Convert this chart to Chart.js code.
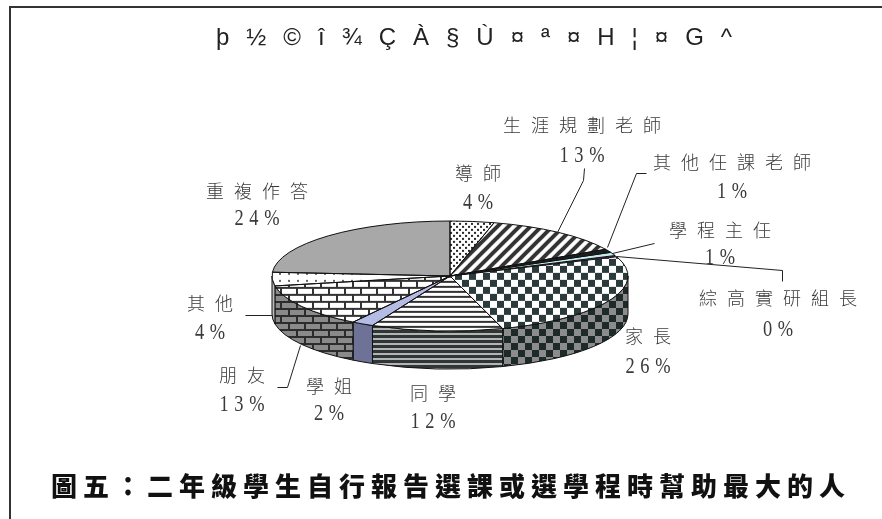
<!DOCTYPE html>
<html>
<head>
<meta charset="utf-8">
<script src="https://cdn.jsdelivr.net/npm/chart.js@4.4.1/dist/chart.umd.min.js"></script>
<style>
  html, body { margin: 0; background: #fff; }
  #wrap { width: 882px; height: 519px; }
</style>
</head>
<body>
<div id="wrap"><canvas id="c" width="882" height="519"></canvas></div>
<script>
// data, clockwise from 12 o'clock
const categories = ['導師', '生涯規劃老師', '其他任課老師', '學程主任', '綜高實研組長', '家長', '同學', '學姐', '朋友', '其他', '重複作答'];
const shares = [4, 13, 1, 1, 0.4, 26, 12, 2, 13, 4, 24];
const chartTitle = '圖五：二年級學生自行報告選課或選學程時幫助最大的人';
const garbledTitle = 'þ½©î¾ÇÀ§Ù¤ª¤H¦¤G^';

// label placement: [x, name y, percent y]
const labelSpots = {
  '導師': [478, 173, 203],
  '生涯規劃老師': [582, 125, 156],
  '其他任課老師': [732, 162, 192],
  '學程主任': [720, 230, 258],
  '綜高實研組長': [778, 298, 330],
  '家長': [648, 336, 367],
  '同學': [433, 393, 422],
  '學姐': [329, 386, 414],
  '朋友': [242, 375, 405],
  '其他': [210, 303, 333],
  '重複作答': [257, 191, 219]
};
const leaders = [
  [[584, 168], [583, 180], [557, 232]],
  [[646, 173], [636, 173], [607, 247]],
  [[654, 243], [612, 253]],
  [[616, 256], [782, 270], [782, 281]],
  [[245, 315], [272, 315]],
  [[277, 387], [287, 387], [300, 345]]
];

const TILT = 55 / 178, DEPTH = 38, TOP_Y = 276;
const ctx = document.getElementById('c').getContext('2d');

function tile(w, h, paint) {
  const cv = document.createElement('canvas');
  cv.width = w; cv.height = h;
  paint(cv.getContext('2d'), w, h);
  return ctx.createPattern(cv, 'repeat');
}
function flat(p) {
  // top face is drawn squashed, so stretch the pattern back
  p.setTransform(new DOMMatrix([1, 0, 0, 1 / TILT, 0, 0]));
  return p;
}
const dots = (bg, fg, w, h, pts, s) => tile(w, h, g => {
  g.fillStyle = bg; g.fillRect(0, 0, w, h);
  g.fillStyle = fg; pts.forEach(([x, y]) => g.fillRect(x, y, s, s));
});
const checker = (a, b, n) => tile(2 * n, 2 * n, g => {
  g.fillStyle = b; g.fillRect(0, 0, 2 * n, 2 * n);
  g.fillStyle = a; g.fillRect(0, 0, n, n); g.fillRect(n, n, n, n);
});
const hstripes = (a, b, da, db) => tile(2, da + db, g => {
  g.fillStyle = b; g.fillRect(0, 0, 2, da + db);
  g.fillStyle = a; g.fillRect(0, 0, 2, da);
});
const bricks = (bg, line, bw, bh) => tile(bw, bh * 2, g => {
  g.fillStyle = bg; g.fillRect(0, 0, bw, bh * 2);
  g.fillStyle = line;
  g.fillRect(0, 0, bw, 2); g.fillRect(0, bh, bw, 2);
  g.fillRect(0, 0, 2, bh); g.fillRect(bw / 2, bh, 2, bh);
});
const diag = (a, b, n, lw) => tile(n, n, g => {
  g.fillStyle = b; g.fillRect(0, 0, n, n);
  g.strokeStyle = a; g.lineWidth = lw;
  g.beginPath();
  g.moveTo(-n / 2, n / 2); g.lineTo(n / 2, -n / 2);
  g.moveTo(0, n); g.lineTo(n, 0);
  g.moveTo(n / 2, n * 1.5); g.lineTo(n * 1.5, n / 2);
  g.stroke();
});

const topFills = [
  flat(dots('#fff', '#2a2a2a', 6, 6, [[0, 0], [3, 3]], 2)),
  flat(diag('#333', '#fff', 11, 4)),
  '#1e1e1e',
  '#c4eeee',
  '#5a1a7a',
  flat(checker('#2b3a3a', '#fff', 7)),
  flat(hstripes('#333', '#fff', 2, 3)),
  '#b4bce6',
  flat(bricks('#fff', '#333', 16, 7)),
  flat(dots('#fff', '#666', 9, 7, [[0, 0]], 2)),
  '#a8a8a8'
];
const sideFills = [
  '#555', '#333', '#111', '#8aa', '#402060',
  checker('#1e2a2a', '#8c8c8c', 7),
  hstripes('#2e3636', '#b4b4b4', 3, 2),
  '#6e7296',
  bricks('#8a8a8a', '#2c2c2c', 16, 7),
  dots('#bbb', '#555', 9, 7, [[0, 0]], 2),
  '#777'
];

function spacedText(c, text, x, y, gap) {
  c.letterSpacing = gap + 'px';
  const w = c.measureText(text).width - gap;
  c.textAlign = 'left';
  c.fillText(text, x - w / 2, y);
  c.letterSpacing = '0px';
}

const pie3d = {
  id: 'pie3d',
  beforeDatasetsDraw(chart) {
    const c = chart.ctx, arcs = chart.getDatasetMeta(0).data;
    const cx = arcs[0].x, R = arcs[0].outerRadius, ry = R * TILT;
    c.save();
    c.lineWidth = 1;
    c.strokeStyle = '#111';
    arcs.forEach((a, i) => {
      const s = Math.max(a.startAngle, 0), e = Math.min(a.endAngle, Math.PI);
      if (e <= s) return;
      c.beginPath();
      c.ellipse(cx, TOP_Y, R, ry, 0, s, e);
      c.lineTo(cx + R * Math.cos(e), TOP_Y + DEPTH + ry * Math.sin(e));
      c.ellipse(cx, TOP_Y + DEPTH, R, ry, 0, e, s, true);
      c.closePath();
      c.fillStyle = sideFills[i];
      c.fill();
      c.stroke();
    });
    c.restore();
    c.save();
    c.translate(0, TOP_Y);
    c.scale(1, TILT);
    c.translate(0, -arcs[0].y);
  },
  afterDatasetsDraw(chart) {
    const c = chart.ctx, arcs = chart.getDatasetMeta(0).data;
    c.restore();
    const cx = arcs[0].x, R = arcs[0].outerRadius, ry = R * TILT;
    c.save();
    c.lineWidth = 1;
    c.strokeStyle = '#111';
    arcs.forEach(a => {
      if (a.endAngle - a.startAngle < 0.03) return;
      c.beginPath();
      c.moveTo(cx, TOP_Y);
      c.ellipse(cx, TOP_Y, R, ry, 0, a.startAngle, a.endAngle);
      c.closePath();
      c.stroke();
    });
    c.restore();
  },
  afterDraw(chart) {
    const c = chart.ctx;
    const total = shares.reduce((s, v) => s + v, 0);
    c.save();
    // frame
    c.fillStyle = '#333';
    c.fillRect(10, 6, 872, 2);
    c.fillRect(9, 6, 2, 513);

    // leader lines
    c.strokeStyle = '#222';
    c.lineWidth = 1;
    leaders.forEach(pts => {
      c.beginPath();
      pts.forEach(([x, y], k) => k ? c.lineTo(x + 0.5, y + 0.5) : c.moveTo(x + 0.5, y + 0.5));
      c.stroke();
    });

    // labels
    c.fillStyle = '#3a3a3a';
    c.textBaseline = 'middle';
    categories.forEach((name, i) => {
      const [x, y1, y2] = labelSpots[name];
      c.font = '300 18px "Noto Sans CJK TC"';
      spacedText(c, name, x, y1, 10);
      c.save();
      c.translate(x, y2);
      c.scale(0.8, 1);
      c.font = '23px "Liberation Serif"';
      spacedText(c, Math.round(shares[i] / total * 100) + '%', 0, 0, 7);
      c.restore();
    });

    // top (garbled) caption
    c.fillStyle = '#222';
    c.font = '24px "Liberation Sans"';
    spacedText(c, garbledTitle, 474, 38, 17);

    // bottom caption
    c.fillStyle = '#111';
    c.font = '900 26px "Noto Sans CJK TC"';
    spacedText(c, chartTitle, 448, 486, 6);
    c.restore();
  }
};

new Chart(ctx, {
  type: 'pie',
  data: {
    labels: categories,
    datasets: [{
      data: shares,
      backgroundColor: topFills,
      borderWidth: 0,
      clip: false
    }]
  },
  options: {
    responsive: false,
    animation: false,
    events: [],
    radius: 178,
    layout: { padding: { left: 18, right: 0, top: 0, bottom: 0 } },
    plugins: {
      legend: { display: false },
      tooltip: { enabled: false }
    }
  },
  plugins: [pie3d]
});
</script>
</body>
</html>
